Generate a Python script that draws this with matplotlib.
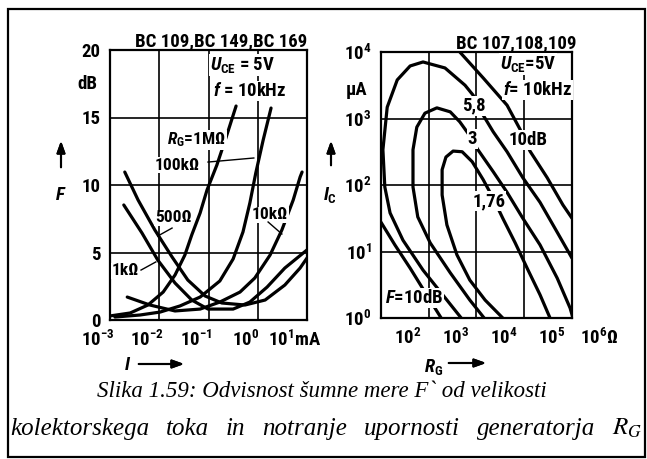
import matplotlib
matplotlib.use("Agg")
import matplotlib.pyplot as plt
import numpy as np
from matplotlib import font_manager as fm
from matplotlib.patches import Rectangle
from matplotlib.transforms import ScaledTranslation

# left panel: noise figure F [dB] against log10(I_C / mA), one curve per R_G
log_ic_1M = [-3.00, -2.59, -2.23, -1.92, -1.68, -1.48, -1.34, -1.17, -1.03, -0.83, -0.64, -0.44]
f_1M = [0.30, 0.52, 1.11, 2.07, 3.33, 4.81, 6.30, 7.93, 9.63, 11.48, 13.56, 15.85]
log_ic_100k = [-2.90, -2.39, -1.98, -1.58, -1.17, -0.77, -0.50, -0.30, -0.16, -0.04, 0.11, 0.27]
f_100k = [0.22, 0.37, 0.59, 1.04, 1.70, 2.89, 4.52, 6.52, 8.67, 10.89, 13.33, 15.70]
log_ic_10k = [-2.65, -2.19, -1.68, -1.17, -0.77, -0.36, -0.06, 0.25, 0.49, 0.72, 0.86, 0.90]
f_10k = [1.70, 1.11, 0.67, 0.81, 1.33, 2.07, 3.11, 4.81, 6.67, 8.89, 10.59, 10.96]
log_ic_1k = [-2.72, -2.35, -2.03, -1.68, -1.34, -1.01, -0.50, -0.16, 0.19, 0.55, 1.00]
f_1k = [8.52, 6.44, 4.44, 2.74, 1.48, 0.81, 0.81, 1.33, 2.44, 3.85, 5.19]
log_ic_500 = [-2.70, -2.43, -2.09, -1.74, -1.42, -1.07, -0.73, -0.26, 0.15, 0.55, 0.86, 1.00]
f_500 = [10.96, 8.89, 6.67, 4.67, 2.96, 1.78, 1.26, 1.11, 1.48, 2.59, 3.85, 4.59]

f_ticks = [0, 5, 10, 15, 20]
ic_ticks = [1e-3, 1e-2, 1e-1, 1e0, 1e1]
ic_labels = ["$10^{-3}$", "$10^{-2}$", "$10^{-1}$", "$10^{0}$", "$10^{1}$mA"]

# right panel: contours of constant F, log10(R_G / Ohm) and log10(I_C / uA)
log_rg_10_low = [2.00, 2.29, 2.61, 2.92, 3.26]
log_i_10_low = [1.44, 1.10, 0.75, 0.39, 0.00]
log_rg_10_up = [3.65, 4.14, 4.64, 4.91, 5.12, 5.48, 5.81, 6.00]
log_i_10_up = [4.00, 3.61, 3.20, 2.84, 2.51, 2.11, 1.70, 1.50]
log_rg_58 = [3.68, 3.38, 2.88, 2.46, 2.19, 2.08, 2.04, 2.13, 2.34, 2.61, 2.88, 3.34, 3.76, 3.93,
             4.14, 4.35, 4.64, 4.97, 5.33, 5.69, 6.00]
log_i_58 = [0.00, 0.27, 0.72, 1.17, 1.58, 1.97, 2.53, 3.17, 3.58, 3.79, 3.85, 3.76, 3.50, 3.35,
            3.05, 2.80, 2.50, 2.11, 1.74, 1.29, 0.90]
log_rg_3 = [4.16, 3.86, 3.45, 3.03, 2.77, 2.67, 2.67, 2.75, 2.92, 3.17, 3.45, 3.65, 3.82, 4.03,
            4.35, 4.64, 4.97, 5.33, 5.69, 5.96, 6.02]
log_i_3 = [0.00, 0.27, 0.68, 1.13, 1.52, 1.97, 2.53, 2.87, 3.08, 3.16, 3.10, 2.95, 2.78, 2.53,
           2.20, 1.89, 1.50, 1.10, 0.60, 0.15, 0.00]
log_rg_176 = [4.55, 4.18, 3.86, 3.59, 3.38, 3.28, 3.28, 3.36, 3.51, 3.70, 3.91, 4.14, 4.35, 4.55,
              4.81, 5.08, 5.33, 5.54]
log_i_176 = [0.00, 0.27, 0.57, 0.95, 1.40, 1.85, 2.23, 2.42, 2.51, 2.50, 2.35, 2.08, 1.80, 1.50,
             1.13, 0.72, 0.35, 0.00]

rg_ticks = [1e2, 1e3, 1e4, 1e5, 1e6]
rg_labels = ["$10^{2}$", "$10^{3}$", "$10^{4}$", "$10^{5}$", "$10^{6}$Ω"]
i_ticks = [1e0, 1e1, 1e2, 1e3, 1e4]
i_labels = ["$10^{0}$", "$10^{1}$", "$10^{2}$", "$10^{3}$", "$10^{4}$"]

caption_1 = "Slika 1.59: Odvisnost šumne mere F` od velikosti"
caption_2 = ["kolektorskega", "toka", "in", "notranje", "upornosti", "generatorja", "$R_G$"]

# a narrow DIN-like face for the diagram lettering, whatever is installed
avail = {f.name for f in fm.fontManager.ttflist}
NARROW = "DejaVu Sans"
for fam in ["Roboto Condensed", "Barlow Semi Condensed", "Archivo Narrow", "Asap Condensed",
            "Liberation Sans Narrow"]:
    if fam in avail:
        NARROW = fam
        break
plt.rcParams["font.family"] = [NARROW, "DejaVu Sans"]
plt.rcParams["mathtext.fontset"] = "custom"
plt.rcParams["mathtext.rm"] = NARROW + ":weight=bold"
plt.rcParams["mathtext.it"] = NARROW + ":style=italic:weight=bold"
plt.rcParams["mathtext.bf"] = NARROW + ":weight=bold"

W, H = 647, 459
fig = plt.figure(figsize=(W / 100, H / 100), dpi=100)


def px_rect(x0, y0, x1, y1):
    return [x0 / W, 1 - y1 / H, (x1 - x0) / W, (y1 - y0) / H]


def fxy(px, py):
    return (px / W, 1 - py / H)


def p10(v):
    return 10 ** np.asarray(v)


CW = 2.3
TS = 13.5
LS = 12.5
BW = "bold"
WHITE = dict(facecolor="white", edgecolor="none", pad=0.5)

# ---------------- left panel
ax1 = fig.add_axes(px_rect(110, 50, 307, 320))
ax1.set_xscale("log")
ax1.set_xlim(1e-3, 1e1)
ax1.set_ylim(0, 20)
for xs, ys in [(log_ic_1M, f_1M), (log_ic_100k, f_100k), (log_ic_10k, f_10k),
               (log_ic_1k, f_1k), (log_ic_500, f_500)]:
    ax1.plot(p10(xs), ys, color="black", lw=CW, solid_capstyle="round", zorder=3)
ax1.set_yticks(f_ticks)
ax1.set_xticks(ic_ticks)
ax1.set_xticklabels(ic_labels)
ax1.xaxis.set_minor_locator(plt.NullLocator())
ax1.grid(True, color="black", lw=1.2)
ax1.tick_params(length=0, labelsize=TS, pad=7)
for lab in ax1.get_xticklabels() + ax1.get_yticklabels():
    lab.set_fontweight(BW)
for lab in ax1.get_xticklabels():
    lab.set_transform(lab.get_transform() + ScaledTranslation(-0.12, 0, fig.dpi_scale_trans))
ax1.text(-0.065, 17.5, "dB", transform=ax1.get_yaxis_transform(), ha="right", va="center",
         fontsize=TS, weight=BW)

ax1.text(0.566, 1.0, "BC 109,BC 149,BC 169", transform=ax1.transAxes, ha="center",
         va="bottom", fontsize=TS, weight=BW)
ax1.text(10 ** -0.97, 18.9, "$U_{\\rm CE}$ = 5V", ha="left", va="center", fontsize=TS,
         weight=BW, bbox=WHITE)
ax1.text(10 ** -0.91, 16.96, "$f$ = 10kHz", ha="left", va="center", fontsize=TS, weight=BW,
         bbox=WHITE)
ax1.text(10 ** -1.84, 13.33, "$R_{\\rm G}$=1MΩ", ha="left", va="center", fontsize=LS, weight=BW,
         bbox=WHITE)
ax1.text(10 ** -2.09, 11.48, "100kΩ", ha="left", va="center", fontsize=LS, weight=BW, bbox=WHITE)
ax1.text(10 ** -2.09, 7.56, "500Ω", ha="left", va="center", fontsize=LS, weight=BW, bbox=WHITE)
ax1.text(10 ** -2.96, 3.63, "1kΩ", ha="left", va="center", fontsize=LS, weight=BW, bbox=WHITE)
ax1.text(10 ** -0.12, 7.78, "10kΩ", ha="left", va="center", fontsize=LS, weight=BW, bbox=WHITE)
for (xa, ya), (xb, yb) in [((-1.01, 11.70), (-0.08, 12.0)), ((-1.74, 6.81), (-2.03, 6.22)),
                           ((-2.37, 3.70), (-2.07, 4.30)), ((0.21, 7.26), (0.49, 6.37))]:
    ax1.plot(p10([xa, xb]), [ya, yb], color="black", lw=1.0, zorder=4)

# ---------------- right panel
ax2 = fig.add_axes(px_rect(381, 52, 572, 318))
ax2.set_xscale("log")
ax2.set_yscale("log")
ax2.set_xlim(1e2, 1e6)
ax2.set_ylim(1e0, 1e4)
for xs, ys in [(log_rg_10_low, log_i_10_low), (log_rg_10_up, log_i_10_up), (log_rg_58, log_i_58),
               (log_rg_3, log_i_3), (log_rg_176, log_i_176)]:
    ax2.plot(p10(xs), p10(ys), color="black", lw=CW, solid_capstyle="round", zorder=3)
ax2.set_xticks(rg_ticks)
ax2.set_xticklabels(rg_labels)
ax2.set_yticks(i_ticks)
ax2.set_yticklabels(i_labels)
ax2.xaxis.set_minor_locator(plt.NullLocator())
ax2.yaxis.set_minor_locator(plt.NullLocator())
ax2.grid(True, color="black", lw=1.2)
ax2.tick_params(length=0, labelsize=TS, pad=7)
for lab in ax2.get_xticklabels() + ax2.get_yticklabels():
    lab.set_fontweight(BW)
for lab in ax2.get_xticklabels():
    lab.set_transform(lab.get_transform() + ScaledTranslation(0.27, 0, fig.dpi_scale_trans))
ax2.text(-0.07, 10 ** 3.43, "µA", transform=ax2.get_yaxis_transform(), ha="right", va="center",
         fontsize=TS, weight=BW)

ax2.text(0.709, 1.0, "BC 107,108,109", transform=ax2.transAxes, ha="center", va="bottom",
         fontsize=TS, weight=BW)
ax2.text(10 ** 4.49, 10 ** 3.82, "$U_{\\rm CE}$=5V", ha="left", va="center", fontsize=TS,
         weight=BW, bbox=WHITE)
ax2.text(10 ** 4.56, 10 ** 3.43, "$f$= 10kHz", ha="left", va="center", fontsize=TS, weight=BW,
         bbox=WHITE)
for lx, ly, s in [(3.95, 3.19, "5,8"), (3.91, 2.69, "3"), (4.26, 1.76, "1,76"), (5.08, 2.68, "10dB")]:
    ax2.text(10 ** lx, 10 ** ly, s, ha="center", va="center", fontsize=TS, weight=BW, bbox=WHITE,
             zorder=5)
ax2.text(10 ** 2.08, 10 ** 0.30, "$F$=10dB", ha="left", va="center", fontsize=TS, weight=BW,
         bbox=WHITE, zorder=5)

for a in (ax1, ax2):
    for s in a.spines.values():
        s.set_linewidth(1.6)

# axis names with arrows
arrow = dict(arrowstyle="-|>,head_length=0.7,head_width=0.25", color="black", lw=1.5)
for (tx, ty, s), (a0, a1) in [((61, 195, "$F$"), ((61, 170), (61, 138))),
                              ((330, 195, "$I_{\\rm C}$"), ((331, 168), (331, 138))),
                              ((128, 365, "$I$"), ((136, 364), (187, 364))),
                              ((434, 367, "$R_{\\rm G}$"), ((446, 363), (489, 363)))]:
    fig.text(*fxy(tx, ty), s, ha="center", va="center", fontsize=TS, weight=BW)
    fig.add_artist(plt.annotate("", xy=fxy(*a1), xytext=fxy(*a0), xycoords="figure fraction",
                                textcoords="figure fraction", arrowprops=arrow))

# caption, second line spread over the full width
cap = dict(family="Liberation Serif", style="italic", weight="normal", math_fontfamily="stix",
           va="baseline")
fig.text(*fxy(322, 397), caption_1, ha="center", fontsize=16.5, **cap)
renderer = fig.canvas.get_renderer()
words = [fig.text(0, 1 - 435 / H, w, ha="left", fontsize=18, **cap) for w in caption_2]
widths = [t.get_window_extent(renderer).width for t in words]
gap = (642 - 10 - sum(widths)) / (len(words) - 1)
x = 10.0
for t, wd in zip(words, widths):
    t.set_x(x / W)
    x += wd + gap

# outer frame
fig.add_artist(Rectangle(fxy(8, 457), (645 - 8) / W, (457 - 9) / H, transform=fig.transFigure,
                         fill=False, edgecolor="black", lw=1.6))

fig.savefig("out.png", dpi=100, facecolor="white")
